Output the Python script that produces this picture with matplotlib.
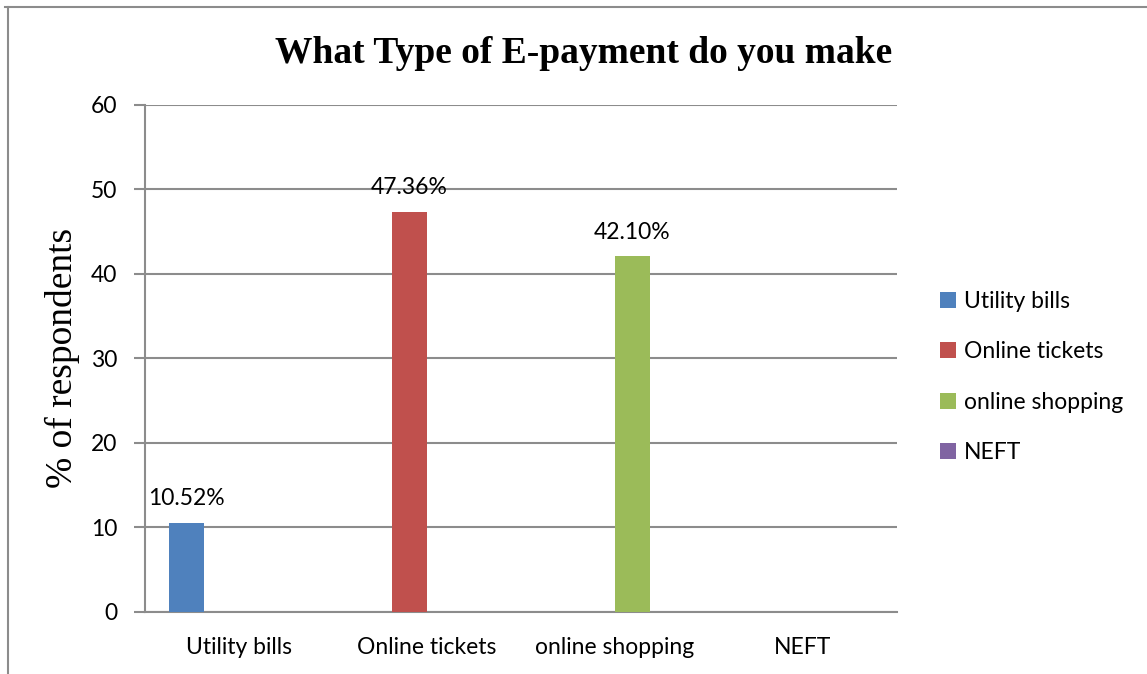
import numpy as np
import matplotlib.pyplot as plt
from matplotlib.lines import Line2D

# Survey results
categories = ['Utility bills', 'Online tickets', 'online shopping', 'NEFT']
percent = [10.52, 47.36, 42.10, 0.0]
value_labels = ['10.52%', '47.36%', '42.10%', '']
colors = ['#4F81BD', '#C0504D', '#9BBB59', '#8064A2']

label_font = 'Lato'
label_size = 16.5

fig = plt.figure(figsize=(11.47, 6.74), dpi=100)
ax = fig.add_axes([0.1264, 0.0924, 0.6556, 0.752])

# chart frame
fig.add_artist(Line2D([0.004, 1.0], [0.99, 0.99], color='#8c8c8c', lw=1.5,
                      transform=fig.transFigure))
fig.add_artist(Line2D([0.007, 0.007], [0.99, 0.0], color='#8c8c8c', lw=1.5,
                      transform=fig.transFigure))

x = np.arange(len(categories))
w = 0.185
for i, (cat, val, lab, c) in enumerate(zip(categories, percent, value_labels, colors)):
    xpos = x[i] + (i - 1.5) * w
    ax.bar(xpos, val, width=w, color=c, label=cat, zorder=3)
    if lab:
        ax.text(xpos, val + 1.6, lab, ha='center', va='bottom',
                fontsize=label_size, family=label_font, color='black')

ax.set_xlim(-0.5, 3.5)
ax.set_ylim(0, 60)
ax.set_yticks(range(0, 61, 10))
ax.set_xticks(x)
ax.set_xticklabels(categories, fontsize=label_size, family=label_font)
for t in ax.get_yticklabels():
    t.set_fontsize(label_size)
    t.set_family(label_font)
ax.tick_params(axis='x', length=0, pad=18)
ax.tick_params(axis='y', length=8, width=1.5, color='#8c8c8c', pad=12)

ax.yaxis.grid(True, color='#8c8c8c', lw=1.5, zorder=0)
ax.set_axisbelow(True)
for s in ['top', 'right']:
    ax.spines[s].set_visible(False)
for s in ['left', 'bottom']:
    ax.spines[s].set_color('#8c8c8c')
    ax.spines[s].set_linewidth(1.5)

ax.set_ylabel('% of respondents', fontsize=27, family='Liberation Serif', labelpad=8)
fig.text(0.509, 0.921, 'What Type of E-payment do you make', ha='center', va='center',
         fontsize=27, fontweight='bold', family='Liberation Serif')

ax.legend(loc='center left', bbox_to_anchor=(1.03, 0.463), frameon=False,
          prop={'family': label_font, 'size': label_size}, handlelength=0.7,
          handleheight=0.7, handletextpad=0.35, labelspacing=1.27)

fig.savefig('out.png', dpi=100, facecolor='white')
